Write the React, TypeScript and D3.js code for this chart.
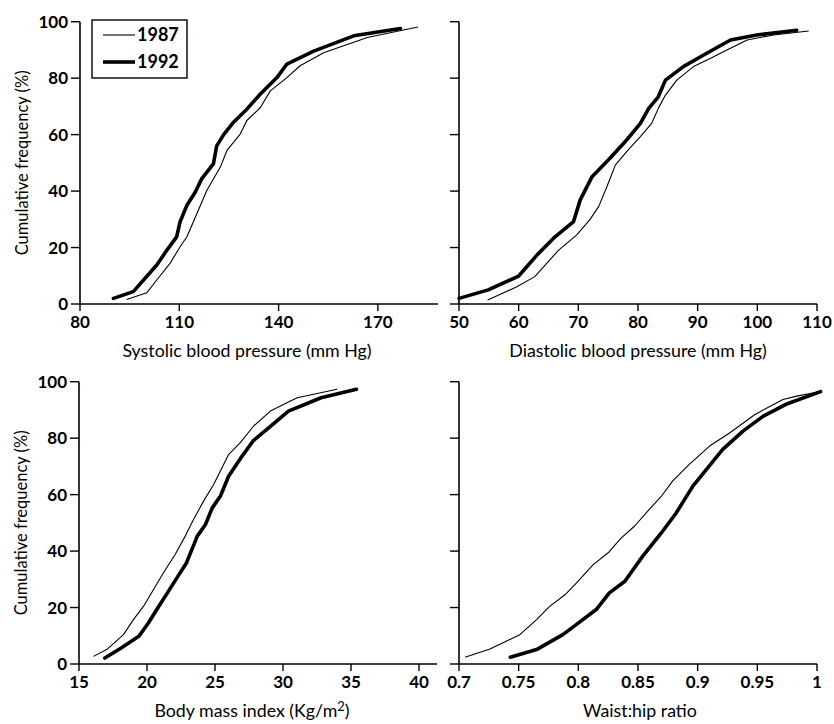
import * as d3 from 'd3';

// cumulative frequency curves, [value, cumulative %]
const sbp1987 = [[94.1, 1.6], [100.2, 4], [103.2, 8.5], [107.2, 14.4], [110.2, 20.2], [112.3, 23.8], [115.3, 32], [118.3, 40.2], [122.4, 48.5], [124.4, 54.4], [128.4, 60.2], [130.4, 65], [134.5, 69.6], [137.5, 75.5], [142.5, 80.2], [146.5, 84.4], [153.6, 89], [166.8, 94.4], [182.1, 98.1]];
const sbp1992 = [[90.1, 2], [96.1, 4.4], [103.2, 13.8], [106.2, 19], [109.2, 23.8], [110.2, 29], [112.3, 35], [114.8, 39.6], [116.8, 44.4], [120.3, 49.6], [121.3, 56], [123.4, 60], [126.4, 64.4], [130.4, 69], [134.5, 74.4], [139.5, 80.2], [142.5, 85], [150.6, 89.6], [162.7, 95], [176.8, 97.6]];

const dbp1987 = [[54.8, 1.4], [59.7, 6.1], [62.7, 9.7], [64.7, 14.4], [66.7, 19.1], [69.7, 24.4], [71.9, 29.8], [73.4, 34.5], [74.8, 41.6], [76.2, 49.2], [78.1, 54], [80.4, 59.3], [82.3, 64], [83.4, 69.3], [84.6, 74], [86.5, 79.3], [89.3, 84.1], [92.1, 87], [94.9, 90], [98.3, 93.5], [102.7, 95.3], [108.6, 96.7]];
const dbp1992 = [[50, 2], [54.9, 5], [60, 9.9], [63.1, 17.4], [66.1, 23.8], [69.2, 29.2], [70.3, 36.8], [72.3, 45.1], [75.3, 51.6], [78.1, 58.1], [80.4, 64], [81.8, 69.3], [83.4, 73.4], [84.6, 79.3], [87.6, 84.1], [91, 88.2], [95.5, 93.5], [99.9, 95.3], [106.6, 97]];

const bmi1987 = [[16.06, 2.7], [17.04, 5.1], [18.27, 10.4], [19, 15.7], [19.74, 20.4], [20.48, 26.4], [21.21, 32.3], [22.07, 38.8], [22.81, 45.3], [23.42, 51.2], [24.16, 57.7], [24.9, 63.6], [26, 74.2], [26.86, 78.4], [27.84, 84.3], [29.07, 89.6], [31.04, 94.3], [33.98, 97.3]];
const bmi1992 = [[16.9, 2.1], [18.1, 5.7], [19.4, 9.8], [20.1, 14.5], [20.8, 19.9], [21.5, 25.2], [22.2, 30.5], [22.9, 35.8], [23.7, 45.3], [24.3, 49.4], [24.8, 55.3], [25.4, 59.5], [26, 66.5], [26.9, 73], [27.8, 79], [29.1, 84.3], [30.4, 89.6], [32.8, 94.3], [35.4, 97.3]];

const whr1987 = [[0.705, 2.4], [0.726, 5.3], [0.751, 10.4], [0.765, 15.7], [0.776, 20.4], [0.789, 24.6], [0.7985, 28.7], [0.8125, 35.2], [0.825, 39.4], [0.836, 44.7], [0.847, 48.8], [0.858, 54.1], [0.8697, 59.5], [0.879, 64.8], [0.893, 70.7], [0.91, 77.2], [0.927, 81.9], [0.948, 88.4], [0.9715, 93.7], [0.983, 94.9], [1.003, 96.5]];
const whr1992 = [[0.743, 2.4], [0.765, 5.1], [0.787, 10.4], [0.7999, 14.5], [0.815, 19.3], [0.826, 25.2], [0.839, 29.3], [0.854, 38.2], [0.8697, 46.5], [0.882, 53.5], [0.896, 63], [0.905, 67.7], [0.921, 76], [0.938, 82.5], [0.955, 87.8], [0.974, 92], [1.003, 96.5]];

const yTicks = [0, 20, 40, 60, 80, 100];
const sbpTicks = [80, 110, 140, 170];
const dbpTicks = [50, 60, 70, 80, 90, 100, 110];
const bmiTicks = [15, 20, 25, 30, 35, 40];
const whrTicks = [0.7, 0.75, 0.8, 0.85, 0.9, 0.95, 1];
const whrLabels = ['0.7', '0.75', '0.8', '0.85', '0.9', '0.95', '1'];
const years = ['1987', '1992'];

const FONT = 'Lato, "Open Sans", sans-serif';
const PH = 282.3; // plot height
const AXIS_LEN = 358;

type Pt = number[];

function Panel(props: {
  left: number;
  top: number;
  domain: [number, number];
  rangeW: number;
  ticks: number[];
  tickLabels?: string[];
  thin: Pt[];
  thick: Pt[];
  title: React.ReactNode;
  titleX: number;
  showYLabels: boolean;
  legend?: boolean;
}) {
  const { left, top, domain, rangeW, ticks, tickLabels, thin, thick, title, titleX, showYLabels, legend } = props;
  const x = d3.scaleLinear().domain(domain).range([0, rangeW]);
  const y = d3.scaleLinear().domain([0, 100]).range([PH, 0]);
  const line = d3
    .line<Pt>()
    .x((d) => x(d[0]))
    .y((d) => y(d[1]));

  return (
    <g transform={`translate(${left},${top})`}>
      {/* axes */}
      <line x1={0} x2={AXIS_LEN} y1={PH} y2={PH} stroke="#000" strokeWidth={1.6} />
      <line x1={0} x2={0} y1={0} y2={PH} stroke="#000" strokeWidth={1.6} />
      {yTicks.map((t) => (
        <g key={t}>
          <line x1={-9} x2={0} y1={y(t)} y2={y(t)} stroke="#000" strokeWidth={1.4} />
          {showYLabels && (
            <text x={-12} y={y(t)} dy="0.36em" textAnchor="end" fontSize={17} fontWeight={700} fontFamily={FONT}>
              {t}
            </text>
          )}
        </g>
      ))}
      {ticks.map((t, i) => (
        <g key={t}>
          <line x1={x(t)} x2={x(t)} y1={PH} y2={PH + 7} stroke="#000" strokeWidth={1.4} />
          <text x={x(t)} y={PH + 24} textAnchor="middle" fontSize={17} fontWeight={700} fontFamily={FONT}>
            {tickLabels ? tickLabels[i] : t}
          </text>
        </g>
      ))}
      <text x={titleX} y={PH + 53} textAnchor="middle" fontSize={17.8} fontFamily={FONT}>
        {title}
      </text>
      {showYLabels && (
        <text
          transform={`translate(-58,${PH / 2}) rotate(-90)`}
          dy="0.35em"
          textAnchor="middle"
          fontSize={16.5}
          fontFamily={FONT}
        >
          Cumulative frequency (%)
        </text>
      )}

      {/* curves */}
      <path d={line(thin) ?? ''} fill="none" stroke="#000" strokeWidth={1.1} strokeLinejoin="round" />
      <path d={line(thick) ?? ''} fill="none" stroke="#000" strokeWidth={3.6} strokeLinejoin="round" strokeLinecap="round" />

      {legend && (
        <g transform="translate(12,-1.7)">
          <rect x={0} y={0} width={95} height={58} fill="#fff" stroke="#000" strokeWidth={1.4} />
          {years.map((yr, i) => (
            <g key={yr} transform={`translate(0,${15 + i * 27})`}>
              <line x1={11} x2={43} y1={0} y2={0} stroke="#000" strokeWidth={i === 0 ? 1.1 : 3.6} />
              <text x={45} y={0} dy="0.36em" fontSize={18} fontWeight={700} fontFamily={FONT}>
                {yr}
              </text>
            </g>
          ))}
        </g>
      )}
    </g>
  );
}

export default function App() {
  return (
    <svg
      width={834}
      height={724}
      style={{ position: 'absolute', left: 0, top: 0, background: '#fff' }}
    >
      <Panel
        left={80}
        top={21.7}
        domain={[80, 180]}
        rangeW={331}
        ticks={sbpTicks}
        thin={sbp1987}
        thick={sbp1992}
        title="Systolic blood pressure (mm Hg)"
        titleX={167}
        showYLabels
        legend
      />
      <Panel
        left={459}
        top={21.7}
        domain={[50, 110]}
        rangeW={358}
        ticks={dbpTicks}
        thin={dbp1987}
        thick={dbp1992}
        title="Diastolic blood pressure (mm Hg)"
        titleX={179}
        showYLabels={false}
      />
      <Panel
        left={79}
        top={381.7}
        domain={[15, 40]}
        rangeW={340}
        ticks={bmiTicks}
        thin={bmi1987}
        thick={bmi1992}
        title={
          <>
            Body mass index (Kg/m<tspan fontSize={13} dy={-6}>2</tspan>
            <tspan dy={6}>)</tspan>
          </>
        }
        titleX={173}
        showYLabels
      />
      <Panel
        left={459}
        top={381.7}
        domain={[0.7, 1]}
        rangeW={358}
        ticks={whrTicks}
        tickLabels={whrLabels}
        thin={whr1987}
        thick={whr1992}
        title="Waist:hip ratio"
        titleX={181}
        showYLabels={false}
      />
    </svg>
  );
}
